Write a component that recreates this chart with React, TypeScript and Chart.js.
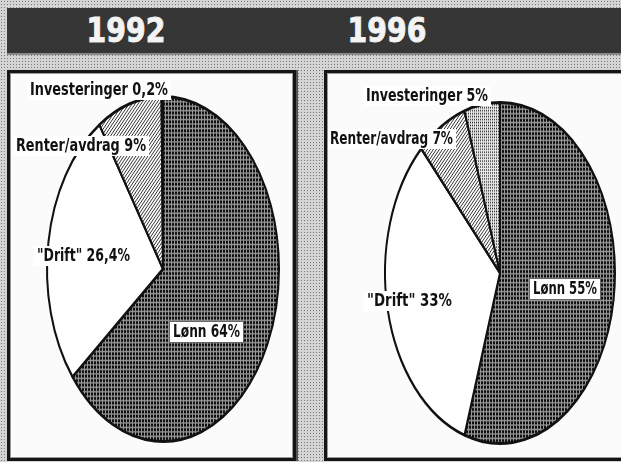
import React, { useEffect, useRef } from "react";
import { Chart, registerables } from "chart.js";

Chart.register(...registerables);

// ---- data ----
const categories = ["Lønn", "\"Drift\"", "Renter/avdrag", "Investeringer"];
const years = ["1992", "1996"];
const values1992 = [64, 26.4, 9, 0.2];
const values1996 = [55, 33, 7, 5];

const fmt = (v: number) => String(v).replace(".", ",") + "%";
const makeLabels = (vals: number[]) => categories.map((c, i) => `${c} ${fmt(vals[i])}`);

// ---- layout (page px) ----
type LabelPos = { dx: number; dy: number; w: number; boxed?: boolean };
const labelPos1992: LabelPos[] = [
  { dx: 10, dy: 63, w: 67, boxed: true },
  { dx: -126, dy: -13, w: 93 },
  { dx: -147, dy: -123, w: 130 },
  { dx: -133, dy: -179, w: 138 },
];
const labelPos1996: LabelPos[] = [
  { dx: 33, dy: 16, w: 64, boxed: true },
  { dx: -133, dy: 28, w: 85 },
  { dx: -170, dy: -134, w: 123 },
  { dx: -134, dy: -177, w: 122 },
];

function makePattern(kind: string): CanvasPattern | string {
  const c = document.createElement("canvas");
  const ctx = c.getContext("2d");
  if (!ctx) return "#888";
  if (kind === "dark") {
    c.width = 3; c.height = 3;
    ctx.fillStyle = "#969696"; ctx.fillRect(0, 0, 3, 3);
    ctx.fillStyle = "#0e0e0e"; ctx.fillRect(0, 0, 2, 2);
  } else if (kind === "hatch") {
    c.width = 3; c.height = 3;
    ctx.fillStyle = "#ffffff"; ctx.fillRect(0, 0, 3, 3);
    ctx.fillStyle = "#333";
    for (let i = 0; i < 3; i++) ctx.fillRect(i, 2 - i, 1, 1);
  } else if (kind === "light") {
    c.width = 2; c.height = 2;
    ctx.fillStyle = "#e6e6e6"; ctx.fillRect(0, 0, 2, 2);
    ctx.fillStyle = "#333"; ctx.fillRect(0, 0, 1, 1);
  } else {
    c.width = 1; c.height = 1;
    ctx.fillStyle = "#ffffff"; ctx.fillRect(0, 0, 1, 1);
  }
  return ctx.createPattern(c, "repeat") || "#888";
}

type PieProps = {
  values: number[];
  labelPos: LabelPos[];
  cx: number; cy: number; rx: number; ry: number;
  left: number; top: number; width: number; height: number;
};

function EllipsePie(props: PieProps) {
  const ref = useRef<HTMLCanvasElement | null>(null);
  useEffect(() => {
    const canvas = ref.current;
    if (!canvas) return;
    const { values, labelPos, cx, cy, rx, ry, left, top, width, height } = props;
    const ccx = cx - left;
    const ccy = cy - top;
    const sy = ry / rx;
    const texts = makeLabels(values);
    const plugin = {
      id: "ellipseLabels",
      beforeDatasetsDraw(chart: any) {
        const arc = chart.getDatasetMeta(0).data[0];
        const ctx = chart.ctx;
        ctx.save();
        ctx.translate(arc.x, arc.y);
        ctx.scale(1, sy);
        ctx.translate(-arc.x, -arc.y);
      },
      afterDatasetsDraw(chart: any) {
        chart.ctx.restore();
      },
      afterDraw(chart: any) {
        const arc = chart.getDatasetMeta(0).data[0];
        const ctx = chart.ctx;
        ctx.save();
        ctx.font = "bold 17px 'Liberation Sans Narrow', 'DejaVu Sans Condensed', sans-serif";
        ctx.textBaseline = "middle";
        texts.forEach((t, i) => {
          const p = labelPos[i];
          const x = arc.x + p.dx;
          const y = arc.y + p.dy;
          ctx.fillStyle = "#ffffff";
          ctx.fillRect(x - 3, y - 10, p.w + 6, 20);
          if (p.boxed) {
            ctx.strokeStyle = "#666";
            ctx.lineWidth = 1;
            ctx.strokeRect(x - 3.5, y - 10.5, p.w + 7, 21);
          }
          const m = ctx.measureText(t).width;
          ctx.save();
          ctx.translate(x, y + 1);
          ctx.scale(p.w / m, 1);
          ctx.fillStyle = "#111";
          ctx.fillText(t, 0, 0);
          ctx.restore();
        });
        ctx.restore();
      },
    };
    const chart = new Chart(canvas, {
      type: "pie",
      data: {
        labels: categories,
        datasets: [
          {
            data: values,
            backgroundColor: [
              makePattern("dark"),
              makePattern("white"),
              makePattern("hatch"),
              makePattern("light"),
            ] as any,
            borderColor: "#111",
            borderWidth: 2,
            clip: false as any,
          },
        ],
      },
      options: {
        animation: false,
        responsive: false,
        devicePixelRatio: 1,
        layout: {
          padding: {
            left: ccx - rx,
            right: width - ccx - rx,
            top: ccy - rx,
            bottom: height - ccy - rx,
          },
        },
        plugins: {
          legend: { display: false },
          tooltip: { enabled: false },
        },
      },
      plugins: [plugin as any],
    });
    return () => chart.destroy();
  }, []);
  return (
    <canvas
      ref={ref}
      width={props.width}
      height={props.height}
      style={{
        position: "absolute",
        left: props.left,
        top: props.top,
        width: props.width,
        height: props.height,
        display: "block",
      }}
    />
  );
}

export default function App() {
  const titleStyle = (center: number): React.CSSProperties => ({
    position: "absolute",
    left: center - 80,
    width: 160,
    top: 8,
    height: 45,
    lineHeight: "45px",
    textAlign: "center",
    color: "#f4f4f4",
    fontFamily: "'DejaVu Sans', sans-serif",
    fontWeight: 700,
    fontSize: 33,
    transform: "scaleX(0.86)",
    WebkitTextStroke: "1px #f0f0f0",
    textShadow: "1px 1px 0 #111",
  });
  return (
    <div
      style={{
        position: "fixed",
        left: 0,
        top: 0,
        width: 621,
        height: 462,
        overflow: "hidden",
        backgroundColor: "#d4d4d4",
        backgroundImage: "radial-gradient(circle, #7a7a7a 0.6px, transparent 1px)",
        backgroundSize: "3px 3px",
      }}
    >
      <div
        style={{
          position: "absolute",
          left: 7,
          top: 8,
          width: 620,
          height: 45,
          background: "#363636",
          borderBottom: "2px solid #888",
        }}
      />
      <div style={titleStyle(126)}>{years[0]}</div>
      <div style={titleStyle(387)}>{years[1]}</div>

      <div
        style={{
          position: "absolute",
          left: 7,
          top: 70,
          width: 283,
          height: 385,
          background: "#fbfbfb",
          border: "3px solid #151515",
          boxShadow: "inset 0 0 0 1px #999, 2px 0 0 #555",
        }}
      />
      <div
        style={{
          position: "absolute",
          left: 324,
          top: 70,
          width: 320,
          height: 385,
          background: "#fbfbfb",
          border: "3px solid #151515",
          boxShadow: "inset 0 0 0 1px #999",
        }}
      />

      <EllipsePie
        values={values1992}
        labelPos={labelPos1992}
        cx={163} cy={269} rx={117} ry={174}
        left={10} top={73} width={280} height={385}
      />
      <EllipsePie
        values={values1996}
        labelPos={labelPos1996}
        cx={500} cy={273} rx={116} ry={172}
        left={328} top={73} width={293} height={385}
      />
    </div>
  );
}
